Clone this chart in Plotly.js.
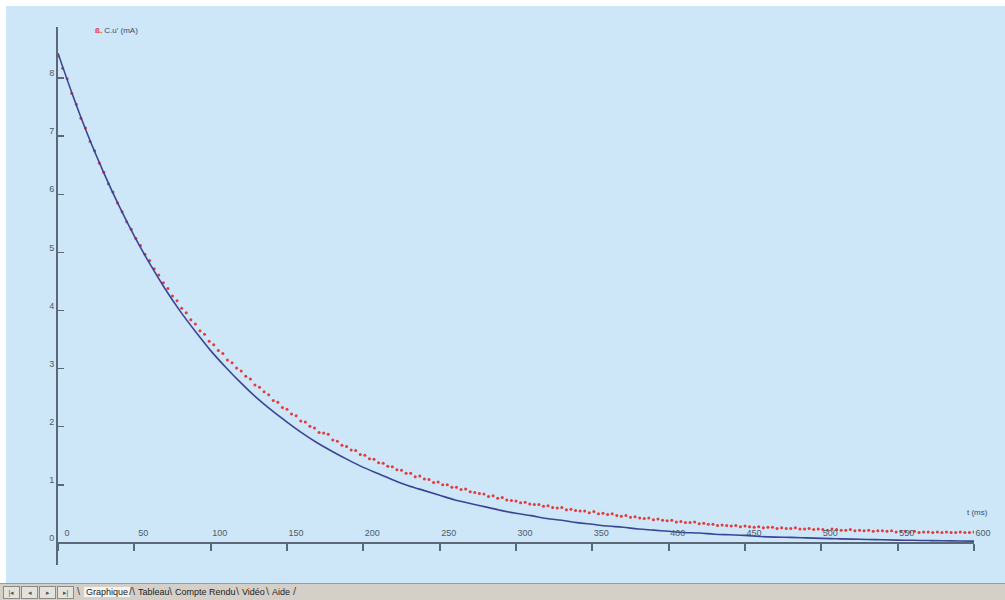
<!DOCTYPE html>
<html>
<head>
<meta charset="utf-8">
<script src="https://cdn.plot.ly/plotly-3.0.1.min.js"></script>
<style>
  html, body { margin: 0; padding: 0; background: #ffffff; width: 1005px; height: 600px; overflow: hidden; }
  #plot { position: absolute; left: 6px; top: 6px; width: 999px; height: 577px; }
  #tabs { position: absolute; left: 0; top: 583px; width: 1005px; height: 17px; background: #d4d0c8;
          border-top: 1px solid #9a9a9a; font-family: "Liberation Sans", Arial, sans-serif; font-size: 9px; color: #222; }
  #tabs .btn { position: absolute; top: 2px; width: 15px; height: 11px; border: 1px solid #8a8a8a; background: #e4e2dc;
               font-size: 7px; line-height: 11px; text-align: center; color: #555; }
  #tabs .tab { position: absolute; top: 3px; }
  #tabs .sep { position: absolute; top: 1px; color: #444; font-size: 11px; }
</style>
</head>
<body>
<div id="plot"></div>
<div id="tabs">
  <div class="btn" style="left:3px">|◂</div>
  <div class="btn" style="left:21px">◂</div>
  <div class="btn" style="left:39px">▸</div>
  <div class="btn" style="left:57px">▸|</div>
  <span class="sep" style="left:77px">\</span>
  <span class="tab" style="left:84px; background:#f4f4f4; padding:0 2px;">Graphique</span>
  <span class="sep" style="left:129px">/\</span>
  <span class="tab" style="left:138px">Tableau</span>
  <span class="sep" style="left:169px">\</span>
  <span class="tab" style="left:175px">Compte Rendu</span>
  <span class="sep" style="left:236px">\</span>
  <span class="tab" style="left:242px">Vidéo</span>
  <span class="sep" style="left:266px">\</span>
  <span class="tab" style="left:272px">Aide</span>
  <span class="sep" style="left:293px">/</span>
</div>
<script>
// ---- data ----
const xTickVals = [0, 50, 100, 150, 200, 250, 300, 350, 400, 450, 500, 550, 600];
const xTickText = ["0", "50", "100", "150", "200", "250", "300", "350", "400", "450", "500", "550", "600"];
const yTickVals = [0, 1, 2, 3, 4, 5, 6, 7, 8];
const yTickText = ["0", "1", "2", "3", "4", "5", "6", "7", "8"];

// model curve (blue), sampled every 10 ms from 0 to 600 ms
const modelStep = 10;
const modelValues = [8.43, 7.68, 6.99, 6.37, 5.80, 5.28, 4.81, 4.38, 3.99, 3.64, 3.31,
  3.02, 2.75, 2.50, 2.28, 2.08, 1.89, 1.72, 1.57, 1.43, 1.30,
  1.19, 1.08, 0.98, 0.90, 0.82, 0.74, 0.68, 0.62, 0.56, 0.51,
  0.47, 0.42, 0.39, 0.35, 0.32, 0.29, 0.27, 0.24, 0.22, 0.20,
  0.18, 0.17, 0.15, 0.14, 0.13, 0.11, 0.10, 0.095, 0.087, 0.079,
  0.072, 0.065, 0.060, 0.054, 0.049, 0.045, 0.041, 0.037, 0.034, 0.031];

// measured points (red), sampled every 3 ms from 0 to 600 ms
const measStep = 3;
const measValues = [8.38, 8.17, 7.99, 7.74, 7.55, 7.31, 7.14, 6.91, 6.75, 6.54,
  6.38, 6.18, 6.04, 5.85, 5.70, 5.53, 5.40, 5.24, 5.12, 4.97,
  4.86, 4.72, 4.61, 4.48, 4.38, 4.25, 4.17, 4.04, 3.96, 3.84,
  3.77, 3.65, 3.59, 3.47, 3.41, 3.31, 3.26, 3.15, 3.10, 3.01,
  2.96, 2.87, 2.82, 2.72, 2.68, 2.60, 2.55, 2.45, 2.42, 2.33,
  2.30, 2.22, 2.19, 2.10, 2.08, 2.01, 1.98, 1.90, 1.89, 1.87,
  1.77, 1.75, 1.68, 1.66, 1.60, 1.59, 1.52, 1.51, 1.45, 1.44,
  1.38, 1.37, 1.32, 1.31, 1.26, 1.25, 1.20, 1.20, 1.14, 1.15,
  1.10, 1.09, 1.04, 1.05, 1.00, 1.00, 0.96, 0.96, 0.92, 0.93,
  0.88, 0.87, 0.85, 0.84, 0.80, 0.81, 0.77, 0.78, 0.74, 0.73,
  0.72, 0.69, 0.70, 0.67, 0.66, 0.66, 0.63, 0.64, 0.61, 0.60,
  0.61, 0.57, 0.58, 0.56, 0.55, 0.55, 0.52, 0.54, 0.50, 0.51,
  0.49, 0.50, 0.47, 0.46, 0.47, 0.44, 0.45, 0.43, 0.42, 0.43,
  0.40, 0.41, 0.39, 0.38, 0.39, 0.36, 0.37, 0.35, 0.35, 0.36,
  0.33, 0.34, 0.32, 0.32, 0.30, 0.31, 0.30, 0.29, 0.30, 0.28,
  0.29, 0.28, 0.27, 0.28, 0.26, 0.27, 0.27, 0.25, 0.26, 0.25,
  0.25, 0.26, 0.24, 0.24, 0.25, 0.23, 0.24, 0.23, 0.22, 0.24,
  0.23, 0.22, 0.22, 0.23, 0.21, 0.22, 0.21, 0.22, 0.20, 0.21,
  0.21, 0.20, 0.21, 0.19, 0.20, 0.20, 0.19, 0.20, 0.18, 0.19,
  0.19, 0.18, 0.19, 0.18, 0.19, 0.18, 0.18, 0.19, 0.18, 0.18,
  0.19];

const yLabel = "C.u' (mA)";
const xLabel = "t (ms)";

// ---- build traces ----
const modelT = modelValues.map((_, i) => i * modelStep);
const measT = measValues.map((_, i) => i * measStep);

const bg = '#cde7f9';
const axisColor = '#5a6878';
const tickFont = { family: 'Liberation Sans, Arial, sans-serif', size: 9, color: '#4d5a68' };

const traces = [
  {
    x: measT, y: measValues, type: 'scatter', mode: 'markers',
    marker: { color: '#e33a3a', size: 3, symbol: 'circle' },
    hoverinfo: 'skip', showlegend: false
  },
  {
    x: modelT, y: modelValues, type: 'scatter', mode: 'lines',
    line: { color: '#3a4596', width: 1.6, shape: 'spline' },
    hoverinfo: 'skip', showlegend: false
  }
];

const layout = {
  width: 999, height: 577,
  margin: { l: 52, r: 31, t: 21, b: 18 },
  paper_bgcolor: bg, plot_bgcolor: bg,
  showlegend: false,
  xaxis: {
    range: [0, 600], anchor: 'free', position: 0.0409,
    tickvals: xTickVals, ticktext: xTickText,
    showline: true, linecolor: axisColor, linewidth: 2,
    ticks: 'outside', ticklen: 7, tickwidth: 2, tickcolor: axisColor,
    ticklabelposition: 'outside', ticklabelstandoff: -26, ticklabelshift: 9,
    showgrid: false, zeroline: false, tickfont: tickFont
  },
  yaxis: {
    range: [-0.38, 8.88],
    tickvals: yTickVals, ticktext: yTickText,
    showline: true, linecolor: axisColor, linewidth: 2,
    ticks: 'inside', ticklen: 6, tickwidth: 1.5, tickcolor: axisColor,
    ticklabelposition: 'outside', ticklabelshift: -5,
    showgrid: false, zeroline: false, tickfont: tickFont
  },
  annotations: [
    { xref: 'paper', yref: 'paper', x: 0.038, y: 0.9926, xanchor: 'left', yanchor: 'middle',
      showarrow: false, text: "<span style='color:#e8302e'><b>ß.</b></span> " + yLabel,
      font: { family: 'Liberation Sans, Arial, sans-serif', size: 8, color: '#3a4a6a' } },
    { xref: 'paper', yref: 'paper', x: 1.017, y: 0.0967, xanchor: 'right', yanchor: 'middle',
      showarrow: false, text: xLabel,
      font: { family: 'Liberation Sans, Arial, sans-serif', size: 8, color: '#3a4a6a' } }
  ]
};

Plotly.newPlot('plot', traces, layout, { displayModeBar: false, staticPlot: true });
</script>
</body>
</html>
